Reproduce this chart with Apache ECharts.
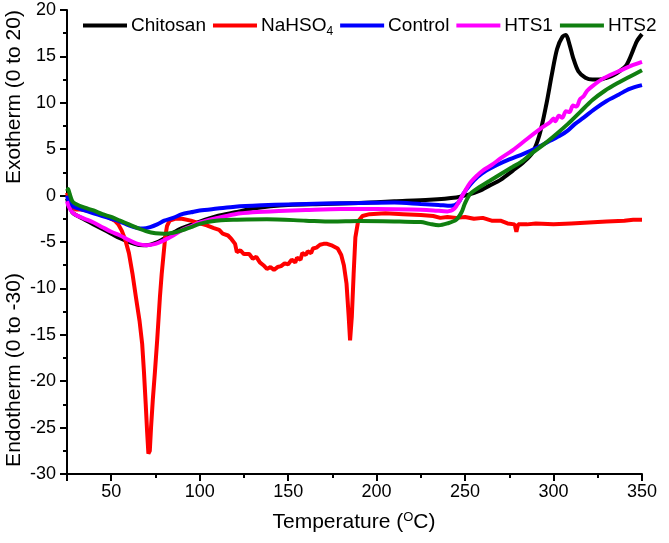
<!DOCTYPE html>
<html>
<head>
<meta charset="utf-8">
<script src="https://cdn.jsdelivr.net/npm/echarts@6/dist/echarts.min.js"></script>
<style>html,body{margin:0;padding:0;background:#fff}#c{width:669px;height:543px}</style>
</head>
<body>
<div id="c"></div>
<script>
var seriesNames = ['Chitosan', 'NaHSO4', 'Control', 'HTS1', 'HTS2'];
var xRange = [25, 350];

var chitosan = [[25,-0.3],[26,-0.9],[28,-1.8],[30,-2.1],[35,-2.6],[40,-3.1],[45,-3.6],[50,-4.1],[55,-4.6],[60,-5.0],[65,-5.3],[70,-5.35],[75,-5.1],[80,-4.6],[85,-4.0],[90,-3.5],[100,-2.8],[110,-2.2],[120,-1.8],[130,-1.4],[140,-1.15],[150,-1.0],[170,-0.9],[190,-0.8],[210,-0.62],[230,-0.45],[245,-0.2],[252,0.1],[258,0.5],[264,1.1],[270,1.7],[277,2.7],[283,3.6],[288,4.6],[292,6.5],[296,9.9],[299,13],[302,15.8],[305,17.1],[307,17.3],[309,16.3],[311,14.9],[314,13.4],[318,12.7],[322,12.5],[326,12.5],[330,12.7],[334,13.0],[338,13.5],[341,14.0],[344,15.2],[347,16.6],[350,17.4]];

var nahso4 = [[25,0.3],[26,-0.4],[27.5,-1.1],[30,-1.5],[33,-1.5],[38,-1.7],[43,-2.0],[48,-2.3],[52,-2.7],[54,-3.1],[56,-3.8],[58,-4.8],[60,-6.2],[62,-8.4],[64,-11],[66,-13.5],[67.5,-16],[68.5,-19],[69.5,-22.5],[70.3,-25.5],[71,-27.8],[71.8,-27.5],[72.5,-25],[73.5,-22],[74.7,-19],[76,-15.5],[77.5,-11],[78.5,-8.5],[79.5,-6.5],[80.5,-4.5],[81.5,-3.3],[83,-2.7],[86,-2.5],[90,-2.5],[95,-2.7],[100,-3.0],[104,-3.2],[108,-3.5],[111,-3.7],[113,-4.1],[116,-4.3],[118,-4.7],[120,-5.2],[121,-6.1],[123,-5.9],[125,-6.3],[128,-6.3],[130,-6.8],[132,-6.6],[134,-7.2],[136,-7.5],[138,-7.9],[140,-7.7],[142,-8.0],[144,-7.7],[146,-7.6],[148,-7.3],[150,-7.4],[152,-6.9],[154,-7.2],[155,-6.7],[157,-6.9],[158,-6.2],[160,-6.4],[161,-6.0],[163,-6.2],[164,-5.7],[166,-5.6],[168,-5.3],[170,-5.2],[172,-5.2],[175,-5.4],[178,-5.7],[180,-6.4],[181.5,-7.5],[183,-9.5],[184.2,-13],[185,-15.6],[186,-13],[187,-8.5],[188,-4.5],[189.5,-2.8],[192,-2.2],[196,-2.0],[205,-1.9],[215,-2.0],[225,-2.1],[232,-2.2],[236,-2.4],[240,-2.3],[245,-2.4],[250,-2.3],[255,-2.5],[260,-2.4],[265,-2.7],[270,-2.7],[274,-3.0],[278,-3.1],[279,-3.9],[280,-3.1],[285,-3.1],[290,-3.0],[300,-3.1],[310,-3.0],[320,-2.9],[330,-2.8],[340,-2.7],[345,-2.6],[350,-2.6]];

var control = [[25,0.0],[26,-0.6],[28,-1.1],[30,-1.3],[35,-1.6],[40,-1.9],[45,-2.2],[50,-2.5],[55,-2.8],[60,-3.2],[65,-3.5],[68,-3.55],[72,-3.4],[76,-3.1],[80,-2.7],[85,-2.4],[90,-2.0],[95,-1.8],[100,-1.6],[110,-1.4],[120,-1.2],[135,-1.05],[150,-0.95],[170,-0.85],[190,-0.8],[210,-0.75],[225,-0.9],[235,-1.0],[242,-1.1],[246,-0.8],[249,0.2],[253,1.2],[257,2.0],[262,2.7],[268,3.3],[275,3.9],[283,4.5],[290,5.1],[298,5.9],[304,6.5],[308,7.0],[312,7.7],[317,8.4],[323,9.3],[330,10.2],[337,10.9],[343,11.5],[350,11.9]];

var hts1 = [[25,-0.6],[26,-1.2],[28,-1.8],[30,-2.1],[35,-2.5],[40,-2.9],[45,-3.4],[50,-3.9],[55,-4.3],[60,-4.8],[65,-5.2],[70,-5.35],[75,-5.2],[80,-4.8],[85,-4.3],[90,-3.7],[95,-3.3],[100,-2.9],[110,-2.4],[120,-2.0],[130,-1.8],[145,-1.65],[160,-1.55],[180,-1.45],[200,-1.45],[220,-1.5],[232,-1.6],[240,-1.7],[244,-1.4],[247,-0.5],[250,0.5],[253,1.4],[257,2.2],[260,2.7],[265,3.3],[270,4.0],[277,4.9],[285,6.1],[294,7.4],[298,7.9],[300,8.3],[301,8.0],[303,8.6],[305,8.4],[307,9.1],[309,9.0],[311,9.7],[313,9.6],[315,10.4],[317,10.7],[319,11.3],[322,11.8],[327,12.5],[332,13.0],[338,13.5],[344,14.0],[350,14.4]];

var hts2 = [[25,0.5],[25.6,0.7],[26.5,0.2],[28,-0.6],[30,-0.9],[35,-1.3],[40,-1.6],[45,-2.0],[50,-2.3],[55,-2.7],[60,-3.1],[65,-3.5],[70,-3.85],[75,-4.05],[80,-4.1],[85,-4.0],[90,-3.75],[95,-3.4],[100,-3.05],[106,-2.8],[112,-2.65],[120,-2.6],[138,-2.55],[160,-2.7],[175,-2.8],[190,-2.75],[213,-2.8],[225,-2.85],[230,-3.05],[235,-3.2],[240,-3.0],[245,-2.6],[248,-1.8],[250,-0.8],[253,0.2],[258,0.9],[264,1.6],[270,2.3],[277,3.1],[283,3.8],[288,4.6],[295,5.6],[302,6.7],[308,7.7],[315,9.0],[322,10.3],[329,11.3],[336,12.1],[343,12.8],[350,13.5]];

var seriesData = [chitosan, nahso4, control, hts1, hts2];
var colors = ['#000000', '#ff0000', '#0000ff', '#ff00ff', '#107f10'];
var FONT = 'Liberation Sans, Arial, sans-serif';

var chart = echarts.init(document.getElementById('c'));
var series = seriesNames.map(function (n, i) {
  return {
    name: n, type: 'line', data: seriesData[i], showSymbol: false, symbol: 'none',
    smooth: i === 1 ? false : 0.3,
    lineStyle: { color: colors[i], width: 4 },
    itemStyle: { color: colors[i] },
    z: 2 + i
  };
});

chart.setOption({
  animation: false,
  backgroundColor: '#fff',
  grid: { left: 67, right: 27, top: 10, bottom: 69, containLabel: false },
  legend: {
    left: 78, top: 11, icon: 'rect', itemWidth: 44, itemHeight: 4, itemGap: 7,
    data: seriesNames,
    formatter: function (name) {
      return name === 'NaHSO4' ? '{a|NaHSO}{s|4}' : '{a|' + name + '}';
    },
    textStyle: {
      padding: [0, 0, 0, -1],
      rich: {
        a: { fontFamily: FONT, fontSize: 19, color: '#000' },
        s: { fontFamily: FONT, fontSize: 12, color: '#000', verticalAlign: 'bottom', padding: [12, 0, 0, 0] }
      }
    }
  },
  xAxis: {
    type: 'value', min: xRange[0], max: xRange[1], position: 'bottom',
    axisLine: { show: true, onZero: false, lineStyle: { color: '#000', width: 2 } },
    axisTick: { show: true, length: 7, inside: false, lineStyle: { color: '#000', width: 2 } },
    minorTick: { show: true, splitNumber: 2, length: 4, lineStyle: { color: '#000', width: 2 } },
    axisLabel: { fontFamily: FONT, fontSize: 18, color: '#000', margin: 9,
      formatter: function (v) { return v % 50 === 0 ? String(v) : ''; } },
    splitLine: { show: false }
  },
  yAxis: {
    type: 'value', min: -30, max: 20, interval: 5,
    axisLine: { show: true, onZero: false, lineStyle: { color: '#000', width: 2 } },
    axisTick: { show: true, length: 7, lineStyle: { color: '#000', width: 2 } },
    minorTick: { show: true, splitNumber: 2, length: 4, lineStyle: { color: '#000', width: 2 } },
    axisLabel: { fontFamily: FONT, fontSize: 18, color: '#000', margin: 11 },
    splitLine: { show: false }
  },
  graphic: [
    { type: 'text', x: 14, y: 97, rotation: Math.PI / 2,
      style: { text: 'Exotherm (0 to 20)', fontFamily: FONT, fontSize: 21, fill: '#000', align: 'center', verticalAlign: 'middle' } },
    { type: 'text', x: 14, y: 370, rotation: Math.PI / 2,
      style: { text: 'Endotherm (0 to -30)', fontFamily: FONT, fontSize: 21, fill: '#000', align: 'center', verticalAlign: 'middle' } },
    { type: 'text', x: 354, y: 522,
      style: { text: '{a|Temperature (}{s|O}{a|C)}', fontFamily: FONT, align: 'center', verticalAlign: 'middle',
        rich: { a: { fontFamily: FONT, fontSize: 21, fill: '#000' }, s: { fontFamily: FONT, fontSize: 13, fill: '#000', verticalAlign: 'top', padding: [0, 0, 10, 0] } } } }
  ],
  series: series
});
</script>
</body>
</html>
